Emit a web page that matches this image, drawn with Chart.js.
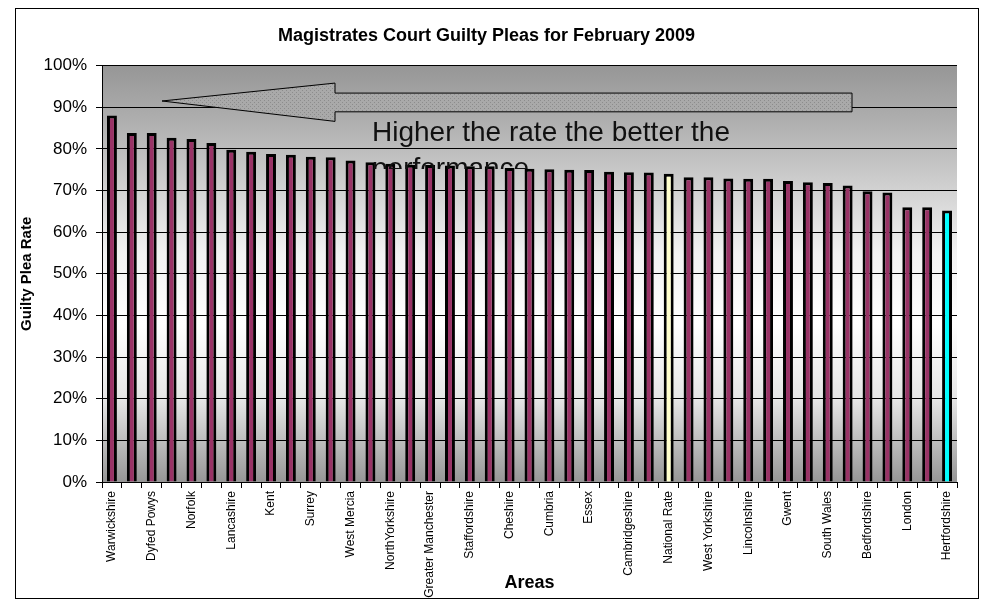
<!DOCTYPE html>
<html>
<head>
<meta charset="utf-8">
<title>Magistrates Court Guilty Pleas for February 2009</title>
<script src="https://cdn.jsdelivr.net/npm/chart.js@4.4.1/dist/chart.umd.min.js"></script>
<style>
  html, body { margin: 0; padding: 0; background: #fff; }
  #wrap { width: 986px; height: 600px; }
</style>
</head>
<body>
<div id="wrap"><canvas id="chart" width="986" height="600"></canvas></div>
<script>
// areas in the order shown (only every other name fits on the axis)
const areas = [
  "Warwickshire", "Dorset", "Dyfed Powys", "North Wales", "Norfolk", "Suffolk",
  "Lancashire", "Durham", "Kent", "Cleveland", "Surrey", "Wiltshire",
  "West Mercia", "Northumbria", "NorthYorkshire", "Derbyshire", "Greater Manchester",
  "Devon & Cornwall", "Staffordshire", "Humberside", "Cheshire", "Gloucestershire",
  "Cumbria", "Leicestershire", "Essex", "Northamptonshire", "Cambridgeshire",
  "Hampshire", "National Rate", "Merseyside", "West Yorkshire", "Avon & Somerset",
  "Lincolnshire", "Thames Valley", "Gwent", "Sussex", "South Wales",
  "South Yorkshire", "Bedfordshire", "Nottinghamshire", "London", "West Midlands",
  "Hertfordshire"
];

// guilty plea rate, percent
const pleaRates = [
  88.0, 83.8, 83.8, 82.7, 82.4, 81.4,
  79.8, 79.3, 78.8, 78.6, 78.1, 78.0,
  77.2, 76.8, 76.4, 76.2, 76.1,
  76.0, 75.8, 75.8, 75.4, 75.2,
  75.1, 75.0, 74.9, 74.5, 74.4,
  74.3, 74.0, 73.2, 73.2, 72.9,
  72.8, 72.8, 72.3, 72.0, 71.8,
  71.2, 69.8, 69.5, 66.0, 66.0,
  65.2
];

const specialColours = { "National Rate": "#ffffcc", "Hertfordshire": "#00ffff" };
const barColour = "#993366";
const yTickValues = [0, 10, 20, 30, 40, 50, 60, 70, 80, 90, 100];

const chartTitle = "Magistrates Court Guilty Pleas for February 2009";
const noteText = ["Higher the rate the better the", "performance"];

const FONT = "'Liberation Sans', Arial, sans-serif";

function makeDotPattern(ctx) {
  const c = document.createElement("canvas");
  c.width = 4; c.height = 4;
  const p = c.getContext("2d");
  p.fillStyle = "#a9a9a9";
  p.fillRect(0, 0, 4, 4);
  p.fillStyle = "#8c8c8c";
  p.fillRect(0, 0, 1, 1);
  p.fillRect(2, 2, 1, 1);
  return ctx.createPattern(c, "repeat");
}

const backdrop = {
  id: "backdrop",
  beforeDraw(chart) {
    const { ctx, chartArea: a } = chart;
    ctx.save();
    ctx.fillStyle = "#fff";
    ctx.fillRect(0, 0, chart.width, chart.height);
    ctx.strokeStyle = "#000";
    ctx.lineWidth = 1;
    ctx.strokeRect(15.5, 8.5, 963, 590);
    const g = ctx.createLinearGradient(0, a.top, 0, a.bottom);
    g.addColorStop(0, "#969696");
    g.addColorStop(0.15, "#b2b2b2");
    g.addColorStop(0.45, "#f2f2f2");
    g.addColorStop(0.62, "#ffffff");
    g.addColorStop(0.8, "#e6e6e6");
    g.addColorStop(1, "#969696");
    ctx.fillStyle = g;
    ctx.fillRect(a.left, a.top, a.right - a.left, a.bottom - a.top);
    ctx.restore();
  }
};

// block arrow and note drawn over the bars, like the shapes in the original sheet
const arrowNote = {
  id: "arrowNote",
  afterDatasetsDraw(chart) {
    const { ctx } = chart;
    const y = chart.scales.y;
    const tipX = 162, neckX = 335, endX = 852;
    const tipY = y.getPixelForValue(91.5);
    const headTop = y.getPixelForValue(95.8), headBot = y.getPixelForValue(86.6);
    const shaftTop = y.getPixelForValue(93.4), shaftBot = y.getPixelForValue(88.9);
    ctx.save();
    ctx.beginPath();
    ctx.moveTo(tipX, tipY);
    ctx.lineTo(neckX, headTop);
    ctx.lineTo(neckX, shaftTop);
    ctx.lineTo(endX, shaftTop);
    ctx.lineTo(endX, shaftBot);
    ctx.lineTo(neckX, shaftBot);
    ctx.lineTo(neckX, headBot);
    ctx.closePath();
    ctx.fillStyle = makeDotPattern(ctx);
    ctx.fill();
    ctx.strokeStyle = "#000";
    ctx.lineWidth = 1;
    ctx.stroke();

    // text box clipped at its bottom edge, as in the source
    ctx.beginPath();
    ctx.rect(360, 110, 420, 59);
    ctx.clip();
    ctx.fillStyle = "#111";
    ctx.font = "28px " + FONT;
    ctx.textBaseline = "alphabetic";
    ctx.fillText(noteText[0], 372, 141);
    ctx.fillText(noteText[1], 372, 177);
    ctx.restore();
  }
};

new Chart(document.getElementById("chart"), {
  type: "bar",
  data: {
    labels: areas,
    datasets: [{
      data: pleaRates,
      backgroundColor: areas.map(a => specialColours[a] || barColour),
      borderColor: "#000",
      borderWidth: 3,
      borderSkipped: "start",
      categoryPercentage: 1,
      barPercentage: 0.5
    }]
  },
  options: {
    responsive: false,
    animation: false,
    layout: { padding: { left: 16, right: 29, top: 8, bottom: 0 } },
    plugins: {
      legend: { display: false },
      tooltip: { enabled: false },
      title: {
        display: true,
        text: chartTitle,
        color: "#000",
        font: { family: FONT, size: 18, weight: "bold" },
        padding: { top: 17, bottom: 19 }
      }
    },
    scales: {
      x: {
        ticks: {
          autoSkip: false,
          minRotation: 90,
          maxRotation: 90,
          padding: 3,
          color: "#000",
          font: { family: FONT, size: 12 },
          callback: (v, i) => (i % 2 === 0 ? areas[i] : "")
        },
        grid: { drawOnChartArea: false, drawTicks: true, tickLength: 6, color: "#000" },
        border: { display: true, color: "#000", width: 1 },
        title: {
          display: true,
          text: "Areas",
          color: "#000",
          font: { family: FONT, size: 18, weight: "bold" },
          padding: { top: 0, bottom: 6 }
        },
        afterFit: s => { s.height = 118; }
      },
      y: {
        min: 0,
        max: 100,
        afterBuildTicks: s => { s.ticks = yTickValues.map(v => ({ value: v })); },
        ticks: {
          padding: 9,
          color: "#000",
          font: { family: FONT, size: 17 },
          callback: v => v + "%"
        },
        grid: { color: "#000", lineWidth: 1, drawTicks: true, tickLength: 6 },
        border: { display: true, color: "#000", width: 1 },
        title: {
          display: true,
          text: "Guilty Plea Rate",
          color: "#000",
          font: { family: FONT, size: 15, weight: "bold" },
          padding: { top: 2, bottom: 0 }
        },
        afterFit: s => { s.width = 86; }
      }
    }
  },
  plugins: [backdrop, arrowNote]
});
</script>
</body>
</html>
